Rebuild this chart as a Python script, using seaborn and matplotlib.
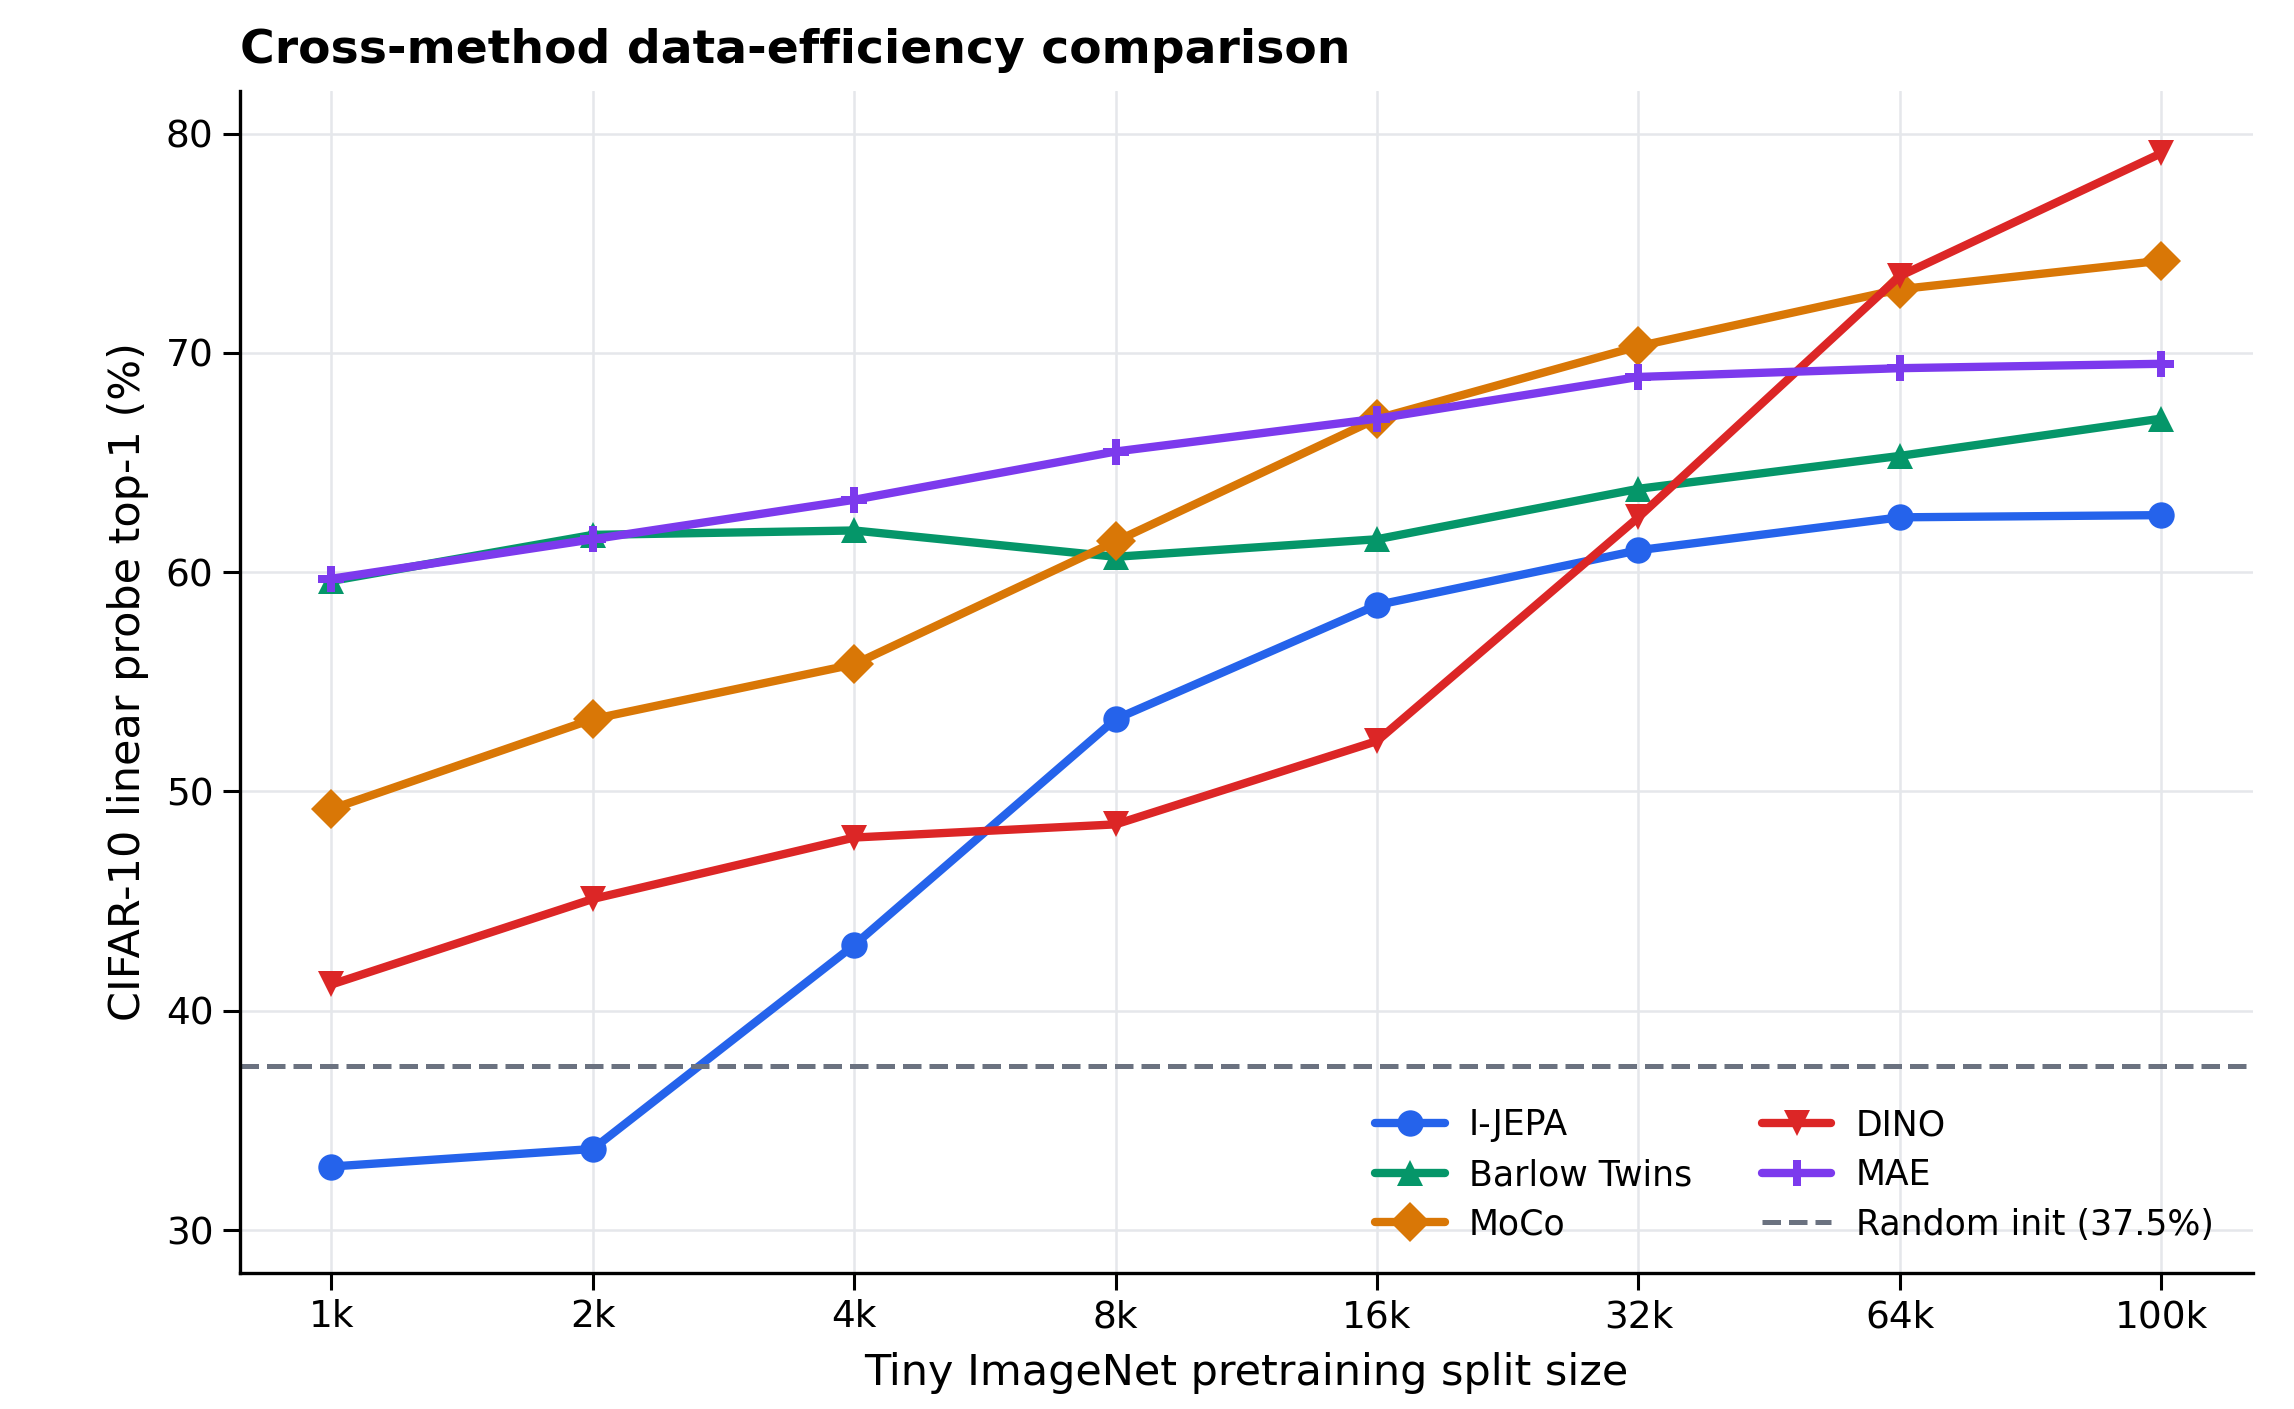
import matplotlib
matplotlib.use("Agg")
import matplotlib.pyplot as plt
import numpy as np
import pandas as pd
import seaborn as sns

# Split sizes (categorical, evenly spaced)
splits = ["1k", "2k", "4k", "8k", "16k", "32k", "64k", "100k"]

# CIFAR-10 linear probe top-1 (%) per method
ijepa = [32.9, 33.7, 43.0, 53.3, 58.5, 61.0, 62.5, 62.6]
barlow = [59.6, 61.7, 61.9, 60.7, 61.5, 63.8, 65.3, 67.0]
moco = [49.2, 53.3, 55.8, 61.4, 67.0, 70.3, 72.9, 74.2]
dino = [41.2, 45.1, 47.9, 48.5, 52.3, 62.5, 73.5, 79.1]
mae = [59.7, 61.5, 63.3, 65.5, 67.0, 68.9, 69.3, 69.5]
random_init = 37.5

methods = ["I-JEPA", "Barlow Twins", "MoCo", "DINO", "MAE"]
values = [ijepa, barlow, moco, dino, mae]
colors = ["#2563eb", "#059669", "#d97706", "#dc2626", "#7c3aed"]
markers = ["o", "^", "D", "v", "P"]

sns.set_style("white")
plt.rcParams['font.family'] = ['DejaVu Sans']
plt.rcParams['text.color'] = 'black'
plt.rcParams['axes.labelcolor'] = 'black'
plt.rcParams['xtick.color'] = 'black'
plt.rcParams['ytick.color'] = 'black'

fig = plt.figure(figsize=(11.47, 7.045), dpi=200)
ax = fig.add_axes([0.1046, 0.0966, 0.8774, 0.839])

xpos = np.arange(len(splits))
for name, vals, c, m in zip(methods, values, colors, markers):
    df = pd.DataFrame({"x": xpos, "y": vals})
    sns.lineplot(data=df, x="x", y="y", ax=ax, color=c, marker=m,
                 markersize=10 if m == "D" else 9.5, markeredgewidth=0,
                 linewidth=3, label=name)

ax.axhline(random_init, color="#6b7280", linestyle="--", linewidth=1.8,
           label=f"Random init ({random_init}%)")

ax.set_xticks(xpos)
ax.set_xticklabels(splits)
ax.set_ylim(28.05, 81.95)
ax.set_yticks([30, 40, 50, 60, 70, 80])
ax.tick_params(axis="both", labelsize=13.5, length=6, width=1.1,
               color="black", labelcolor="black", bottom=True, left=True)
ax.grid(True, color="#e5e7eb", linewidth=0.9)
ax.set_axisbelow(True)
for s in ["top", "right"]:
    ax.spines[s].set_visible(False)
for s in ["left", "bottom"]:
    ax.spines[s].set_color("black")
    ax.spines[s].set_linewidth(1.2)

ax.set_xlabel("Tiny ImageNet pretraining split size", fontsize=15.5,
              color="black", labelpad=6)
ax.set_ylabel("CIFAR-10 linear probe top-1 (%)", fontsize=15.5,
              color="black", labelpad=6)
ax.set_title("Cross-method data-efficiency comparison", loc="left",
             fontsize=17, fontweight="bold", pad=10, color="black")

leg = ax.legend(ncol=2, loc="lower right", frameon=False, fontsize=12.5,
                bbox_to_anchor=(0.996, 0.0), columnspacing=2.0,
                handlelength=2.0, handletextpad=0.7, labelspacing=0.45)
for t in leg.get_texts():
    t.set_color("black")

fig.savefig("out.png", dpi=200)
